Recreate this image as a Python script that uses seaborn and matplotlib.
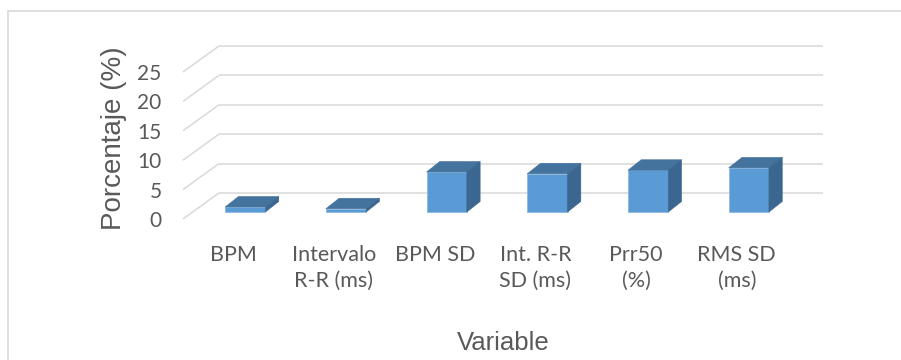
import numpy as np
import matplotlib
matplotlib.use("Agg")
import matplotlib.pyplot as plt
from matplotlib.patches import Polygon
from matplotlib.lines import Line2D
import seaborn as sns

# ---- data ----
categories = ["BPM", "Intervalo\nR-R (ms)", "BPM SD", "Int. R-R\nSD (ms)", "Prr50\n(%)", "RMS SD\n(ms)"]
values = [0.85, 0.55, 6.8, 6.5, 7.1, 7.5]
y_ticks = [0, 5, 10, 15, 20, 25]
x_title = "Variable"
y_title = "Porcentaje (%)"

sns.set_theme(style="white")
plt.rcParams["font.family"] = ["Lato", "DejaVu Sans"]

W, H = 901, 360
fig = plt.figure(figsize=(W / 100, H / 100), dpi=100)

# pixel geometry of the 3D box (orthographic projection)
px_cat = 100.7            # px per category
px_val = 5.88             # px per value unit
x0_px = 245.3 - px_cat / 2  # left edge of category band at bar-front depth
y0_px = 212.0             # value 0 at bar-front depth (from top)
ylo, yhi = -2.0, 26.0
left = x0_px / W
width = 6 * px_cat / W
bottom = (H - (y0_px - ylo * px_val)) / H
height = (yhi - ylo) * px_val / H
ax = fig.add_axes([left, bottom, width, height])

# depth offsets (data units)
back_dx, back_dy = 24.0 / px_cat, 19.0 / px_val
front_dx, front_dy = -12.0 / px_cat, -7.0 / px_val
bar_dx, bar_dy = 13.3 / px_cat, 10.5 / px_val

grid_c = "#D9D9D9"
for v in y_ticks:
    ax.plot([-0.5 + back_dx, 5.5 + back_dx], [v + back_dy, v + back_dy],
            color=grid_c, lw=1.1, zorder=0, clip_on=False, solid_capstyle="butt")
    ax.plot([-0.5 + front_dx, -0.5 + back_dx], [v + front_dy, v + back_dy],
            color=grid_c, lw=1.1, zorder=0, clip_on=False, solid_capstyle="butt")

sns.barplot(x=categories, y=values, width=0.4, color="#5B9BD5",
            edgecolor="#8DB8E2", linewidth=0.6, saturation=1, ax=ax, zorder=3)

for p in ax.patches[:len(values)]:
    x = p.get_x(); w = p.get_width(); h = p.get_height()
    top = Polygon([(x, h), (x + bar_dx, h + bar_dy), (x + w + bar_dx, h + bar_dy), (x + w, h)],
                  closed=True, facecolor="#44739E", edgecolor="#44739E", lw=0.4, zorder=3, clip_on=False)
    side = Polygon([(x + w, 0), (x + w + bar_dx, bar_dy), (x + w + bar_dx, h + bar_dy), (x + w, h)],
                   closed=True, facecolor="#3A6690", edgecolor="#3A6690", lw=0.4, zorder=3, clip_on=False)
    ax.add_patch(top)
    ax.add_patch(side)

ax.set_xlim(-0.5, 5.5)
ax.set_ylim(ylo, yhi)
for s in ax.spines.values():
    s.set_visible(False)
ax.grid(False)

text_c = "#595959"
ax.set_yticks([v + front_dy for v in y_ticks], labels=[str(v) for v in y_ticks])
ax.tick_params(axis="y", length=0, pad=24, labelsize=15, labelcolor=text_c)
ax.set_xticks(np.arange(len(categories)) + front_dx, labels=categories)
ax.tick_params(axis="x", length=0, pad=15, labelsize=15.5, labelcolor=text_c)
for lbl in ax.get_xticklabels():
    lbl.set_linespacing(1.4)
ax.set_xlabel("")
ax.set_ylabel("")

fig.text(503 / W, 1 - 343 / H, x_title, ha="center", va="center",
         fontsize=18.5, color=text_c, family=["Liberation Sans", "DejaVu Sans"])
fig.text(114 / W, 1 - 138 / H, y_title, ha="center", va="center", rotation=90,
         fontsize=20, color=text_c, family=["Liberation Sans", "DejaVu Sans"])

# chart border (top and left visible)
fig.add_artist(Line2D([8 / W, 8 / W], [0, 1 - 11 / H], color="#D9D9D9", lw=1.2))
fig.add_artist(Line2D([8 / W, 1], [1 - 11 / H, 1 - 11 / H], color="#D9D9D9", lw=1.2))

fig.savefig("out.png", dpi=100, facecolor="white")
